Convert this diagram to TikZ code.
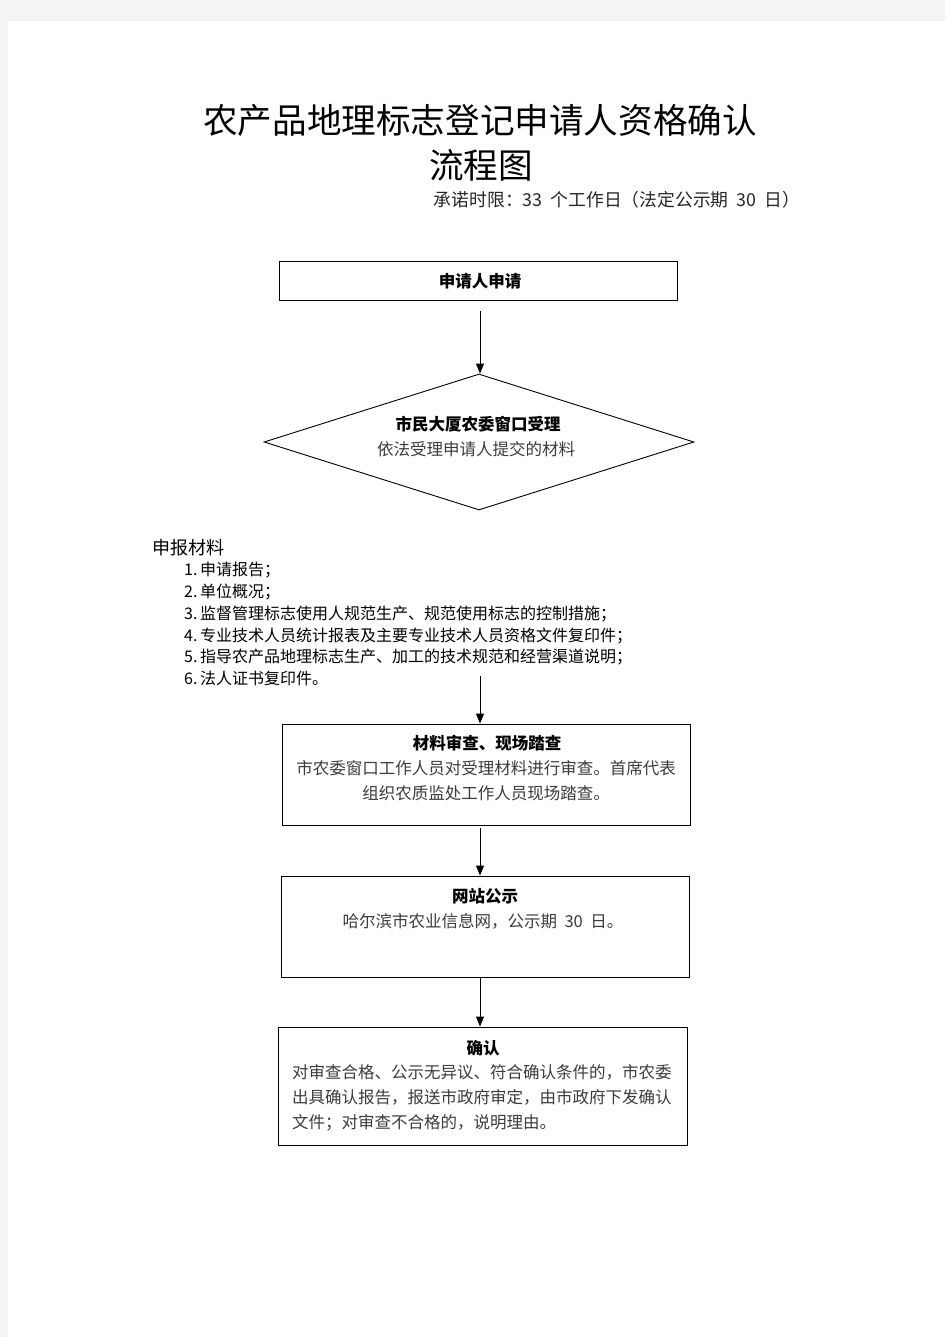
\documentclass[tikz,border=0pt]{standalone}
\usepackage{fontspec}
\setmainfont{Noto Sans CJK SC}
\usepackage{xcolor}
\usetikzlibrary{
  arrows.meta,
  positioning,
  shapes.geometric
}
\definecolor{pagegray}{HTML}{F4F4F4}
\definecolor{bodygray}{HTML}{3C3C3C}
\newcommand{\itemno}[1]{\makebox[1em][l]{#1}}
\newcommand{\gap}{\hspace{0.45em}}

\begin{document}
\begin{tikzpicture}[%设定
        x=1pt,y=-1pt,
        flow/.style={
            line width=1pt,
            -{Triangle[length=10pt,width=8pt]}
          },
        box/.style={
            draw,
            line width=0.9pt,
            inner sep=0pt
          },
        heading/.style={
            inner sep=0pt,
            font=\fontsize{16.5}{25}\selectfont\bfseries
          },
        body/.style={
            inner sep=0pt,
            text=bodygray,
            align=center,
            font=\fontsize{16.5}{25}\selectfont
          }
      ]

      % 背景
      \useasboundingbox (0,0) rectangle (945,1337);
      \fill[pagegray] (0,0) rectangle (945,1337);
      \fill[white] (8,21) rectangle (945,1337);

      % 标题
      \node[inner sep=0pt, font=\fontsize{34.6}{40}\selectfont] (title) at (480,120)
        {农产品地理标志登记申请人资格确认};
      \node[inner sep=0pt, font=\fontsize{34.6}{40}\selectfont] (title_2) at (481,165) {流程图};
      \node[inner sep=0pt, text=black!85, font=\fontsize{17.8}{20}\selectfont]
        (time_limit) at (617,200) {承诺时限：33\gap 个工作日（法定公示期\gap 30\gap 日）};

      % 坐标
      \coordinate (trunk) at (480,0);
      \coordinate (list_end) at (480,676);

      % 申请
      \node[box, minimum width=398pt, minimum height=39pt] (apply) at (478,280.5) {};
      \node[heading] (apply_text) at (480,281) {申请人申请};

      % 受理
      \node[box, shape=diamond, minimum width=430pt, minimum height=136pt] (accept) at (479,442) {};
      \node[heading] (accept_title) at (478,424) {市民大厦农委窗口受理};
      \node[body] (accept_text) at (476,449) {依法受理申请人提交的材料};

      % 申报材料
      \node[inner sep=0pt, anchor=west, font=\fontsize{18}{20}\selectfont] (materials) at (152,548) {申报材料};
      \node[inner sep=0pt, anchor=north west, align=left, font=\fontsize{16}{21.8}\selectfont]
        (material_list) at (184,562) {%
          \itemno{1.}申请报告；\\
          \itemno{2.}单位概况；\\
          \itemno{3.}监督管理标志使用人规范生产、规范使用标志的控制措施；\\
          \itemno{4.}专业技术人员统计报表及主要专业技术人员资格文件复印件；\\
          \itemno{5.}指导农产品地理标志生产、加工的技术规范和经营渠道说明；\\
          \itemno{6.}法人证书复印件。};

      % 审查
      \node[box, minimum width=408pt, minimum height=101pt] (review) at (486,774.5) {};
      \node[heading] (review_title) at (487,743) {材料审查、现场踏查};
      \node[body, anchor=north] (review_text) at (486,760)
        {市农委窗口工作人员对受理材料进行审查。首席代表\\组织农质监处工作人员现场踏查。};

      % 公示
      \node[box, minimum width=408pt, minimum height=101pt] (publish) at (485,926.5) {};
      \node[heading] (publish_title) at (485,896) {网站公示};
      \node[body] (publish_text) at (483,921) {哈尔滨市农业信息网，公示期\gap 30\gap 日。};

      % 确认
      \node[box, minimum width=409pt, minimum height=118pt] (confirm) at (482.5,1086) {};
      \node[heading] (confirm_title) at (483,1048) {确认};
      \node[body, anchor=north west, align=left] (confirm_text) at (292,1064)
        {对审查合格、公示无异议、符合确认条件的，市农委\\
         出具确认报告，报送市政府审定，由市政府下发确认\\
         文件；对审查不合格的，说明理由。};

      % 箭头
      \draw[flow, shorten <=11pt] (apply.south -| trunk) -- (accept.north -| trunk);
      \draw[flow] (list_end) -- (review.north -| trunk);
      \draw[flow, shorten <=3pt] (review.south -| trunk) -- (publish.north -| trunk);
      \draw[flow] (publish.south -| trunk) -- (confirm.north -| trunk);

    \end{tikzpicture}
\end{document}
